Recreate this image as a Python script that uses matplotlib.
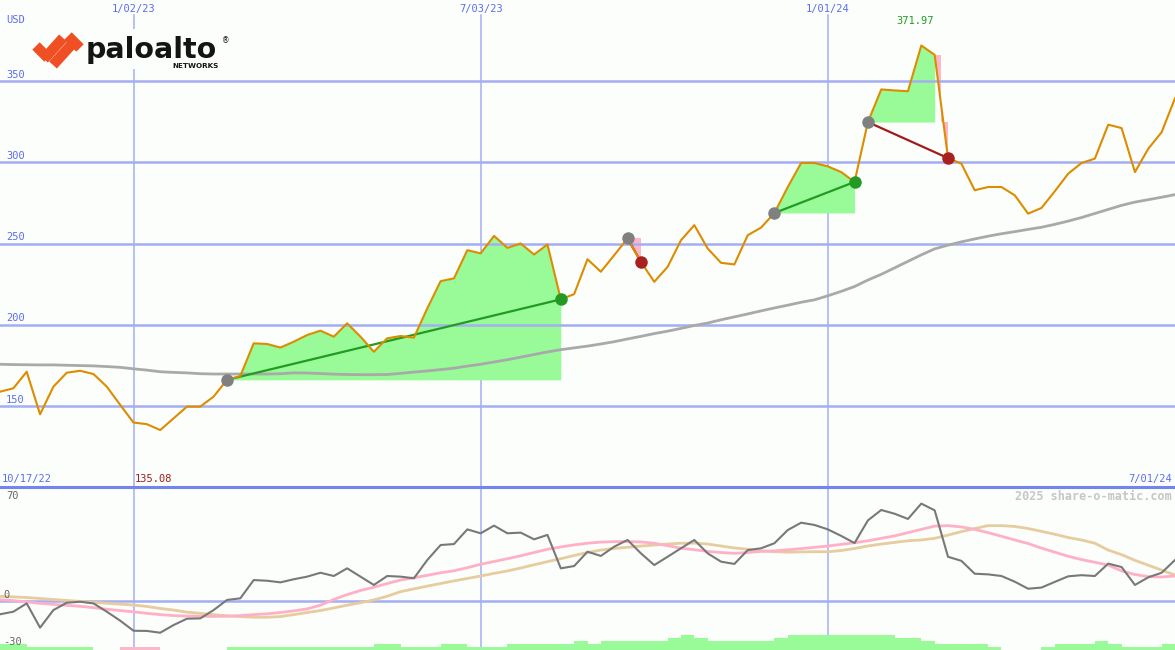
import numpy as np
import matplotlib
matplotlib.use("Agg")
import matplotlib.pyplot as plt
from matplotlib.patches import Polygon, Rectangle

# weekly closes, week 0 = 10/24/22
price = [158.7, 160.8, 171.0, 144.8, 161.8, 170.4, 171.6, 169.6, 161.8, 150.6,
         139.7, 138.7, 135.08, 142.3, 149.5, 149.5, 155.7, 166.0, 168.4, 188.5,
         188.1, 185.9, 189.5, 193.6, 196.3, 192.6, 200.8, 192.6, 183.3, 191.6,
         193.0, 192.0, 210.0, 226.8, 228.5, 245.9, 243.9, 254.7, 247.3, 250.0,
         243.2, 249.4, 215.6, 218.8, 240.3, 232.6, 242.8, 253.1, 238.7, 226.4,
         235.6, 252.0, 261.3, 246.9, 238.1, 237.1, 255.1, 259.8, 268.8, 284.8,
         299.6, 299.6, 297.5, 294.0, 287.9, 324.8, 344.9, 344.3, 343.8, 371.97,
         366.2, 302.6, 299.2, 282.8, 284.8, 284.8, 279.7, 268.4, 271.9, 282.2,
         293.0, 299.6, 302.3, 323.2, 321.1, 294.0, 308.4, 318.6, 339.5]
avg_line = [175.6, 175.4, 175.3, 175.2, 175.2, 175.0, 174.8, 174.6, 174.2, 173.7,
            172.8, 172.0, 171.0, 170.6, 170.3, 169.8, 169.6, 169.6, 169.6, 169.6,
            169.6, 169.8, 170.3, 170.2, 169.9, 169.5, 169.3, 169.2, 169.2, 169.3,
            170.0, 170.8, 171.5, 172.3, 173.2, 174.5, 175.6, 177.0, 178.4, 180.0,
            181.6, 183.2, 184.6, 185.7, 186.8, 188.1, 189.5, 191.2, 192.8, 194.5,
            196.0, 197.7, 199.5, 201.0, 203.0, 204.8, 206.6, 208.5, 210.3, 212.0,
            213.8, 215.3, 217.8, 220.5, 223.5, 227.5, 231.0, 235.0, 239.0, 243.0,
            246.7, 249.0, 251.0, 252.8, 254.5, 256.0, 257.3, 258.7, 260.0, 261.8,
            263.8, 266.0, 268.5, 271.0, 273.5, 275.5, 277.0, 278.5, 280.1]

# trades: entry week, exit week
entries = [17, 47, 58, 65]
exits = [42, 48, 64, 71]

# lower panel
osc = [-8.1, -6.5, -1.4, -16.3, -5.5, -1.0, -0.4, -1.4, -6.5, -12.0,
       -18.2, -18.3, -19.4, -14.7, -10.8, -10.6, -5.5, 0.7, 1.7, 12.9,
       12.5, 11.5, 13.4, 15.0, 17.4, 15.4, 20.1, 15.0, 9.9, 15.4,
       15.0, 14.0, 25.2, 34.4, 35.0, 44.0, 41.6, 46.3, 41.6, 42.0,
       37.9, 40.6, 20.1, 21.5, 30.3, 27.7, 33.4, 37.5, 29.3, 22.1,
       27.2, 32.4, 37.5, 29.3, 24.2, 22.8, 31.3, 32.4, 35.5, 43.6,
       48.1, 46.7, 44.0, 40.0, 35.6, 49.5, 55.9, 53.6, 50.4, 59.8,
       55.7, 27.2, 24.7, 16.8, 16.4, 15.4, 11.9, 7.6, 8.3, 11.8,
       15.2, 15.9, 15.4, 23.0, 20.9, 9.9, 14.6, 17.4, 25.2]
osc_fast = [0.9, 0.3, -0.5, -1.4, -2.0, -2.6, -3.2, -4.0, -5.0, -5.8,
            -6.6, -7.5, -8.3, -8.9, -9.2, -9.3, -9.4, -9.3, -8.9, -8.3,
            -7.8, -7.0, -6.0, -4.8, -2.5, 1.0, 4.0, 6.5, 8.5, 10.8,
            12.9, 14.3, 15.8, 17.4, 18.6, 20.5, 22.6, 24.3, 26.0, 27.8,
            29.8, 31.8, 33.2, 34.5, 35.5, 36.2, 36.5, 36.5, 36.3, 35.5,
            34.0, 32.5, 31.5, 30.5, 29.8, 29.3, 29.8, 30.5, 30.8, 31.5,
            32.2, 33.0, 33.8, 34.8, 35.8, 37.0, 38.5, 40.0, 42.0, 44.0,
            46.0, 46.3, 45.5, 44.0, 42.0, 39.8, 37.5, 35.3, 32.5, 30.0,
            27.5, 25.5, 23.8, 22.1, 18.5, 16.3, 15.0, 14.8, 15.4]
osc_slow = [2.9, 2.6, 2.2, 1.6, 1.0, 0.4, -0.2, -0.8, -1.3, -1.9,
            -2.4, -3.3, -4.5, -5.5, -6.8, -7.5, -8.3, -9.0, -9.5, -9.9,
            -9.9, -9.5, -8.3, -7.0, -5.8, -4.2, -2.5, -1.0, 0.7, 3.0,
            5.8, 7.5, 9.2, 10.8, 12.4, 13.9, 15.4, 17.0, 18.5, 20.3,
            22.3, 24.2, 26.0, 28.0, 29.8, 31.3, 32.3, 33.0, 33.8, 34.4,
            35.0, 35.5, 35.6, 35.0, 33.8, 32.6, 31.8, 30.8, 30.3, 30.0,
            30.2, 30.3, 30.3, 31.0, 32.3, 33.8, 35.0, 36.0, 37.0, 37.5,
            38.5, 40.5, 42.6, 44.5, 46.3, 46.3, 45.8, 44.5, 42.8, 41.0,
            39.0, 37.5, 35.5, 31.3, 28.5, 25.0, 22.0, 19.0, 16.0]
bar_level = [2, 2, 1, 1, 1, 1, 1, 0, 0, -1, -1, -1, 0, 0, 0, 0, 0,
             1, 1, 1, 1, 1, 1, 1, 1, 1, 1, 1, 2, 2, 1, 1, 1, 2, 2, 1, 1, 1,
             2, 2, 2, 2, 2, 3, 2, 3, 3, 3, 3, 3, 4, 5, 4, 3, 3, 3, 3, 3, 4,
             5, 5, 5, 5, 5, 5, 5, 5, 4, 4, 3, 2, 2, 2, 2, 1, 0, 0, 0, 1,
             2, 2, 2, 3, 2, 1, 1, 1, 2, 2]
bar_unit = 1.85

date_ticks = [10, 36, 62]
date_labels = ["1/02/23", "7/03/23", "1/01/24"]
price_grid = [150, 200, 250, 300, 350]
start_label, end_label = "10/17/22", "7/01/24"

weeks = np.arange(len(price))
price = np.array(price)

bg = "#fbfefb"
grid_c = "#a4aef2"
txt_c = "#5d6cf0"
orange = "#dd8c00"
green_fill = "#98fb98"
pink = "#ffb6c8"
mono = ["DejaVu Sans Mono"]

fig = plt.figure(figsize=(11.75, 6.5), dpi=100)
fig.patch.set_facecolor(bg)
ax = fig.add_axes([0, 163 / 650, 1, 487 / 650])
ax2 = fig.add_axes([0, 0, 1, 163 / 650])
for a in (ax, ax2):
    a.set_facecolor(bg)
    a.set_xlim(0, 88)
    a.set_xticks([])
    a.set_yticks([])
    for s in a.spines.values():
        s.set_visible(False)
ax.set_ylim(100, 400)
ax2.set_ylim(-30, 70)

# grid
for d in date_ticks:
    ax.axvline(d, ymax=1 - 15 / 487, color=grid_c, lw=1.1, zorder=1)
    ax2.axvline(d, color=grid_c, lw=1.1, zorder=1)
for g in price_grid:
    ax.axhline(g, color=grid_c, lw=1.8, zorder=3)
ax2.axhline(0, color=grid_c, lw=1.8, zorder=1)
ax2.axhline(70, color="#7384ee", lw=2.2, zorder=8, clip_on=False)

# trades
for e, x in zip(entries, exits):
    lvl = price[e]
    seg = slice(e, x + 1)
    ax.fill_between(weeks[seg], price[seg], lvl, where=price[seg] >= lvl,
                    interpolate=False, color=green_fill, lw=0, zorder=2)
    win = price[x] > lvl
    if not win:
        x0, x1 = weeks[x - 1], weeks[x]
        xm = (x0 + x1) / 2
        p0, p1 = price[x - 1], price[x]
        ax.add_patch(Polygon([(x0, p0), (xm, p0), (xm, lvl), (x1, lvl), (x1, p1)],
                             closed=True, color=pink, lw=0, zorder=2))
    lc = "#239b23" if win else "#a01c1c"
    ax.plot([e, x], [lvl, price[x]], color=lc, lw=1.6, zorder=5)
    ax.plot(e, lvl, "o", color="#808080", ms=9, mew=0, zorder=7)
    ax.plot(x, price[x], "o", color="#239b23" if win else "#a82020", ms=9, mew=0, zorder=7)

ax.plot(weeks, avg_line, color="#a9a9a9", lw=2, zorder=4)
ax.plot(weeks, price, color=orange, lw=1.5, zorder=6)

# labels main
yt = ax.get_yaxis_transform()
xt = ax.get_xaxis_transform()
ax.text(6 / 1175, 1 - 20 / 487, "USD", transform=ax.transAxes, color=txt_c,
        family=mono, fontsize=7.5, va="center", ha="left")
for g in price_grid:
    ax.text(6 / 1175, g + 3.8, str(g), transform=yt, color=txt_c,
            family=mono, fontsize=7.5, va="center", ha="left")
for d, lab in zip(date_ticks, date_labels):
    ax.text(d, 1 - 9 / 487, lab, transform=xt, color=txt_c, family=mono,
            fontsize=7.5, va="center", ha="center")
imax = int(np.argmax(price))
imin = int(np.argmin(price))
ax.text(imax - 0.5, 1 - 21 / 487, f"{price[imax]:.2f}", transform=xt,
        color="#239b23", family=mono, fontsize=7.5, va="center", ha="center")
ax.text(imin - 0.5, 8 / 487, f"{price[imin]:.2f}", transform=xt,
        color="#a01c1c", family=mono, fontsize=7.5, va="center", ha="center")
ax.text(2 / 1175, 8 / 487, start_label, transform=ax.transAxes, color=txt_c,
        family=mono, fontsize=7.5, va="center", ha="left")
ax.text(1 - 3 / 1175, 8 / 487, end_label, transform=ax.transAxes, color=txt_c,
        family=mono, fontsize=7.5, va="center", ha="right")

# lower panel
lv = np.array(bar_level)
ax2.bar(np.arange(len(lv)), np.abs(lv) * bar_unit, width=1, align="edge", bottom=-30,
        color=[green_fill if v >= 0 else pink for v in lv], lw=0, zorder=2)
ax2.plot(weeks, osc_slow, color="#e6cc9e", lw=2, zorder=3)
ax2.plot(weeks, osc_fast, color="#ffb0c6", lw=2, zorder=4)
ax2.plot(weeks, osc, color="#787878", lw=1.5, zorder=5)
ax2.text(6 / 1175, 70 - 5.5, "70", transform=ax2.get_yaxis_transform(), color="#666666",
         family=mono, fontsize=7.5, va="center", ha="left")
ax2.text(3 / 1175, 0 + 4, "0", transform=ax2.get_yaxis_transform(), color="#666666",
         family=mono, fontsize=7.5, va="center", ha="left")
ax2.text(3 / 1175, -30 + 5, "-30", transform=ax2.get_yaxis_transform(), color="#666666",
         family=mono, fontsize=7.5, va="center", ha="left")
ax2.text(1 - 3 / 1175, 1 - 9 / 163, "2025 share-o-matic.com", transform=ax2.transAxes,
         color="#c6c6c6", family=mono, fontsize=8.5, fontweight="bold",
         va="center", ha="right")

# logo
ov = fig.add_axes([0, 0, 1, 1], zorder=10)
ov.set_xlim(0, 1175)
ov.set_ylim(650, 0)
ov.axis("off")
ov.patch.set_alpha(0)
ov.add_patch(Rectangle((30, 29), 202, 40, color=bg, lw=0))
logo_orange = "#f04e23"
for (xa, ya, xb, yb) in [(36, 46, 48, 58), (44, 59, 63, 38), (53, 65, 72, 44), (68, 36, 80, 48)]:
    ov.plot([xa, xb], [ya, yb], color=logo_orange, lw=7.5, solid_capstyle="butt")
ov.text(86, 58, "paloalto", color="#141414", fontsize=20.5, fontweight="bold",
        family="DejaVu Sans", va="baseline", ha="left")
ov.text(219, 66, "NETWORKS", color="#141414", fontsize=5.2, fontweight="bold",
        family="DejaVu Sans", va="center", ha="right")
ov.text(226, 41, "\u00ae", color="#141414", fontsize=5.5, family="DejaVu Sans",
        va="center", ha="center")

fig.savefig("out.png", dpi=100, facecolor=bg)
